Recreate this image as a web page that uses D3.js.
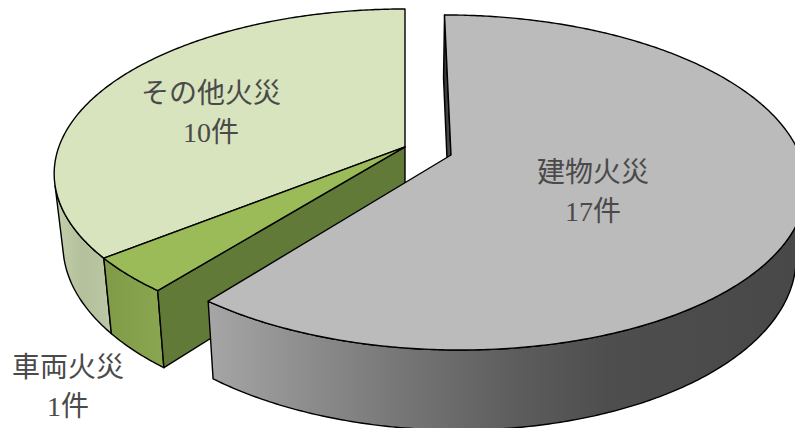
<!DOCTYPE html>
<html>
<head>
<meta charset="utf-8">
<script src="https://cdn.jsdelivr.net/npm/d3@7/dist/d3.min.js"></script>
<style>
html,body{margin:0;padding:0;background:#fff;overflow:hidden}
svg{display:block}
text{font-family:"Liberation Serif","Noto Sans CJK JP",serif;font-size:28px;fill:#4a4a4a;text-anchor:middle}
</style>
</head>
<body>
<svg id="chart" width="795" height="428"></svg>
<script>
// Fire counts by type, clockwise from twelve o'clock
const categories = ["建物火災", "車両火災", "その他火災"];
const counts = [17, 1, 10];
const unit = "件";

const topColors = ["#bbbbbb", "#9bbb59", "#d7e4bd"];
const labelAnchors = [[593, 182], [68, 377], [211, 103]];
const lineGap = 39;

// Perspective set-up for the tilted disc
const W = 795, H = 428;
const vanishX = 405, horizonY = -839, focal = 994, tilt = 0.164, radius = 349;
const thicknessBack = 63, thicknessGrow = 0.0512, taper = 0.975;

// Exploded offset of each slice, in disc-plane units
const offsets = [{a: 46, b: 0}, {a: 0, b: -0.05}, {a: 0, b: -0.05}];

function project(angle, r, off) {
  const u = Math.sin(angle) * r, v = -Math.cos(angle) * r;
  const s = 1 / (1 - tilt * (off.b + v));
  return [vanishX + (off.a + radius * u) * s, horizonY + focal * s];
}
function lower(p) {
  return [vanishX + (p[0] - vanishX) * taper,
          p[1] + thicknessBack + (p[1] - 15) * thicknessGrow];
}
function rim(a0, a1, off) {
  const n = Math.max(2, Math.ceil(Math.abs(a1 - a0) / 0.01));
  return d3.range(n + 1).map(i => project(d3.interpolateNumber(a0, a1)(i / n), 1, off));
}

const pie = d3.pie().sort(null).value(d => d);
const arcs = pie(counts);
const path = d3.line();
const svg = d3.select("#chart");

// Horizontal shading for the curved outer walls
const defs = svg.append("defs");
function shade(id, x1, x2, stops) {
  const g = defs.append("linearGradient").attr("id", id)
    .attr("gradientUnits", "userSpaceOnUse")
    .attr("x1", x1).attr("x2", x2).attr("y1", 0).attr("y2", 0);
  stops.forEach(([o, c]) => g.append("stop").attr("offset", o).attr("stop-color", c));
}
shade("wall0", 208, 795, [[0, "#a6a6a6"], [0.19, "#8a8a8a"], [0.33, "#767676"], [0.53, "#5c5c5c"], [0.68, "#4e4e4e"], [1, "#484848"]]);
shade("wall1", 104, 163, [[0, "#7f9b47"], [1, "#8aa650"]]);
shade("wall2", 55, 110, [[0, "#c4cfad"], [0.5, "#b4c09b"], [1, "#bcc8a6"]]);
shade("radial", 444, 452, [[0, "#333333"], [1, "#5a5a5a"]]);

function draw(points, fill) {
  svg.append("path").attr("d", path(points) + "Z")
    .attr("fill", fill).attr("stroke", "#000")
    .attr("stroke-width", 1.4).attr("stroke-linejoin", "round");
}

// Part of the rim whose wall faces the viewer: the wall's vertical edge
// and the rim tangent must keep the same winding as at the front of the disc
function facing(points) {
  return points.filter((p, i) => {
    const q = points[Math.min(i + 1, points.length - 1)];
    const o = i + 1 < points.length ? p : points[i - 1];
    const t = i + 1 < points.length ? q : p;
    const l = lower(p);
    return (t[0] - o[0]) * (l[1] - p[1]) - (t[1] - o[1]) * (l[0] - p[0]) < 0;
  });
}
function outerWall(d, off, fill) {
  const top = facing(rim(d.startAngle, d.endAngle, off));
  draw(top.concat(top.map(lower).reverse()), fill);
}
function radialWall(angle, off, fill) {
  const c = project(0, 0, off), e = project(angle, 1, off);
  draw([c, e, lower(e), lower(c)], fill);
}
function topFace(d, off, fill) {
  draw([project(0, 0, off)].concat(rim(d.startAngle, d.endAngle, off)), fill);
}

// Back group first, the larger slice sits in front of it
outerWall(arcs[2], offsets[2], "url(#wall2)");
outerWall(arcs[1], offsets[1], "url(#wall1)");
radialWall(arcs[1].startAngle, offsets[1], "#627a37");
topFace(arcs[2], offsets[2], topColors[2]);
topFace(arcs[1], offsets[1], topColors[1]);

radialWall(arcs[0].startAngle, offsets[0], "url(#radial)");
outerWall(arcs[0], offsets[0], "url(#wall0)");
topFace(arcs[0], offsets[0], topColors[0]);

// Two-line labels: category name, then the count
categories.forEach((name, i) => {
  const [x, y] = labelAnchors[i];
  svg.append("text").attr("x", x).attr("y", y).text(name);
  svg.append("text").attr("x", x).attr("y", y + lineGap).text(counts[i] + unit);
});
</script>
</body>
</html>
